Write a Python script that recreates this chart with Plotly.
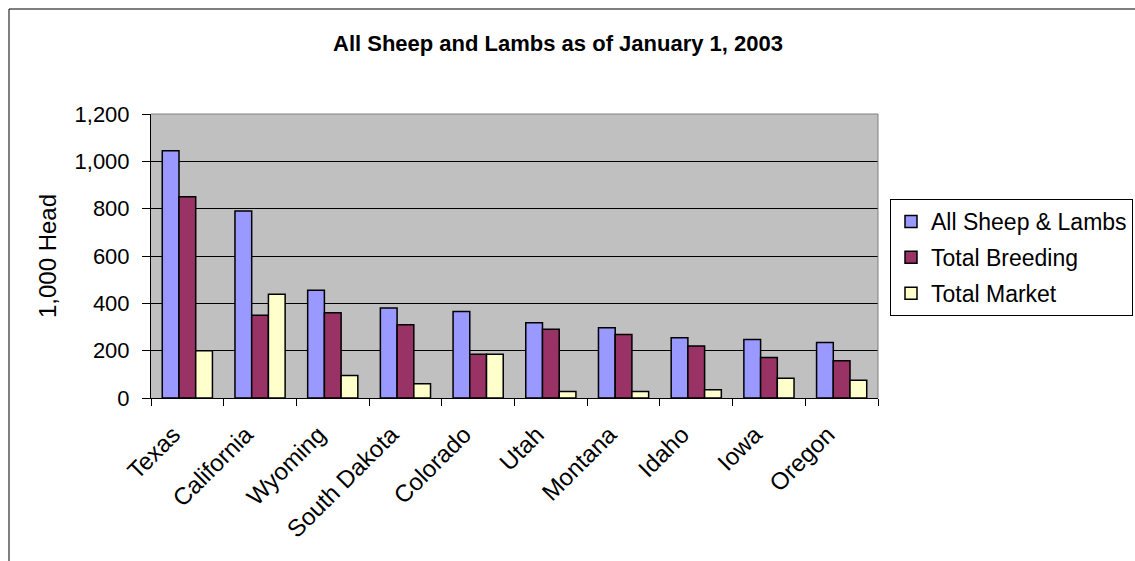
import plotly.graph_objects as go

states = ["Texas", "California", "Wyoming", "South Dakota", "Colorado",
          "Utah", "Montana", "Idaho", "Iowa", "Oregon"]
all_sheep = [1045, 790, 455, 380, 365, 318, 297, 255, 247, 234]
total_breeding = [850, 350, 360, 310, 185, 290, 268, 220, 171, 157]
total_market = [200, 438, 95, 60, 185, 27, 27, 35, 83, 75]

series_names = ["All Sheep & Lambs", "Total Breeding", "Total Market"]
series_values = [all_sheep, total_breeding, total_market]
series_colors = ["#9999FF", "#993366", "#FFFFCC"]

FONT = "Liberation Sans, Arial, sans-serif"

fig = go.Figure()
for i, (name, vals, col) in enumerate(zip(series_names, series_values, series_colors)):
    fig.add_trace(go.Bar(
        x=states, y=vals, name=name,
        marker=dict(color=col, line=dict(color="#000000", width=1.5)),
        legendgroup=f"g{i}",
    ))

W, H = 1135, 561
L, R, T, B = 151, 878, 114, 398
fig.update_layout(
    width=W, height=H,
    margin=dict(l=L, r=W - R, t=T, b=H - B, autoexpand=False),
    paper_bgcolor="white",
    plot_bgcolor="#C0C0C0",
    barmode="group",
    bargap=0.31,
    bargroupgap=0,
    font=dict(family=FONT, size=22, color="#000000"),
    title=dict(text="<b>All Sheep and Lambs as of January 1, 2003</b>",
               x=558 / W, xanchor="center", y=1 - 43 / H, yanchor="middle",
               font=dict(family=FONT, size=22, color="#000000")),
    legend=dict(x=(890 - L) / (R - L), y=(B - 199) / (B - T),
                xanchor="left", yanchor="top",
                bordercolor="#000000", borderwidth=1, bgcolor="white",
                font=dict(family=FONT, size=23),
                traceorder="grouped", tracegroupgap=3),
    showlegend=True,
)
fig.update_xaxes(
    type="category",
    showline=True, linecolor="#000000", linewidth=1,
    ticks="outside", tickson="boundaries", ticklen=7, tickcolor="#000000",
    tickangle=-45, showgrid=False,
    ticklabelstandoff=12, ticklabelshift=-14,
    tickfont=dict(family=FONT, size=24),
)
fig.update_yaxes(
    range=[0, 1200], dtick=200, tickformat=",",
    showline=True, linecolor="#000000", linewidth=1,
    ticks="outside", ticklen=8, tickcolor="#000000",
    showgrid=True, gridcolor="#000000", gridwidth=1,
    zeroline=False, ticklabelstandoff=8,
    title=dict(text="1,000 Head", font=dict(family=FONT, size=24), standoff=11),
    tickfont=dict(family=FONT, size=22),
)

# plot area border (top and right, gray)
fig.add_shape(type="line", xref="paper", yref="paper", x0=0, x1=1, y0=1, y1=1,
              line=dict(color="#808080", width=1), layer="above")
fig.add_shape(type="line", xref="paper", yref="paper", x0=1, x1=1, y0=0, y1=1,
              line=dict(color="#808080", width=1), layer="above")

# outer chart frame (left and top edges visible)
px_w, px_h = R - L, B - T
fx0 = (9 - L) / px_w
fy_top = (B - 9) / px_h
fig.add_shape(type="line", xref="paper", yref="paper", x0=fx0, x1=(W + 10 - L) / px_w,
              y0=fy_top, y1=fy_top, line=dict(color="#000000", width=1), layer="above")
fig.add_shape(type="line", xref="paper", yref="paper", x0=fx0, x1=fx0,
              y0=fy_top, y1=(B - H - 10) / px_h, line=dict(color="#000000", width=1), layer="above")

fig.write_html("out.html")
